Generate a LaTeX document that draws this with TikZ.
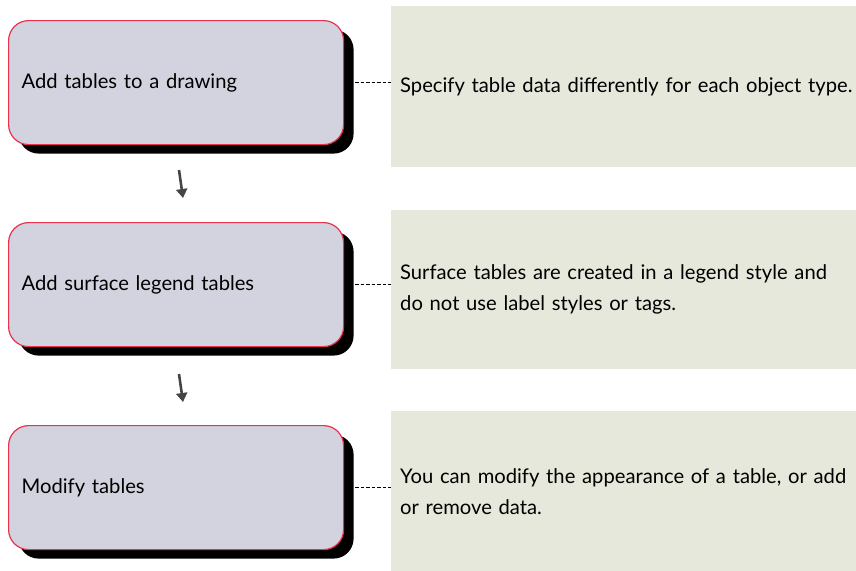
\documentclass[tikz,border=0pt]{standalone}
\usepackage{fontspec}
\setmainfont{Lato}
\usetikzlibrary{shadows,arrows.meta}
\definecolor{boxfill}{HTML}{D3D3DF}
\definecolor{boxline}{HTML}{E8334F}
\definecolor{panelfill}{HTML}{E5E8DA}
\definecolor{arrowc}{HTML}{454545}
\tikzset{
  stepbox/.style={draw=boxline, line width=1.2pt, fill=boxfill, rounded corners=20pt,
    minimum width=335pt, minimum height=124pt, text width=309pt, align=left,
    inner xsep=13pt, anchor=north west,
    font=\fontsize{20.2}{24}\selectfont,
    drop shadow={shadow xshift=10pt, shadow yshift=-9pt, fill=black, opacity=1}},
  panel/.style={fill=panelfill, minimum width=470pt, minimum height=161pt,
    text width=458pt, align=left, inner xsep=9pt, anchor=north west,
    font=\fontsize{20.2}{31}\selectfont},
  conn/.style={dash pattern=on 3.5pt off 2pt, line width=1pt},
  flow/.style={-{Triangle[length=9pt,width=11pt]}, line width=2.6pt, arrowc}
}
\begin{document}
\begin{tikzpicture}[x=1pt,y=-1pt]
\useasboundingbox (0,0) rectangle (856,570);
\node[panel] (p1) at (391,6) {Specify table data differently for each object type.};
\node[panel, minimum height=159pt] (p2) at (391,210) {Surface tables are created in a legend style and\\ do not use label styles or tags.};
\node[panel, minimum height=160pt] (p3) at (391,411) {You can modify the appearance of a table, or add\\ or remove data.};
\node[stepbox] (b1) at (8,20) {Add tables to a drawing};
\node[stepbox] (b2) at (8,222) {Add surface legend tables};
\node[stepbox] (b3) at (8,425) {Modify tables};
\draw[conn] ([xshift=11pt]b1.east) -- (b1.east -| p1.west);
\draw[conn] ([xshift=11pt]b2.east) -- (b2.east -| p2.west);
\draw[conn] ([xshift=11pt]b3.east) -- (b3.east -| p3.west);
\coordinate (a1s) at (179,170);
\coordinate (a1e) at (183,198);
\coordinate (a2s) at (179,374);
\coordinate (a2e) at (183,402);
\draw[flow] (a1s) -- (a1e);
\draw[flow] (a2s) -- (a2e);
\end{tikzpicture}
\end{document}
